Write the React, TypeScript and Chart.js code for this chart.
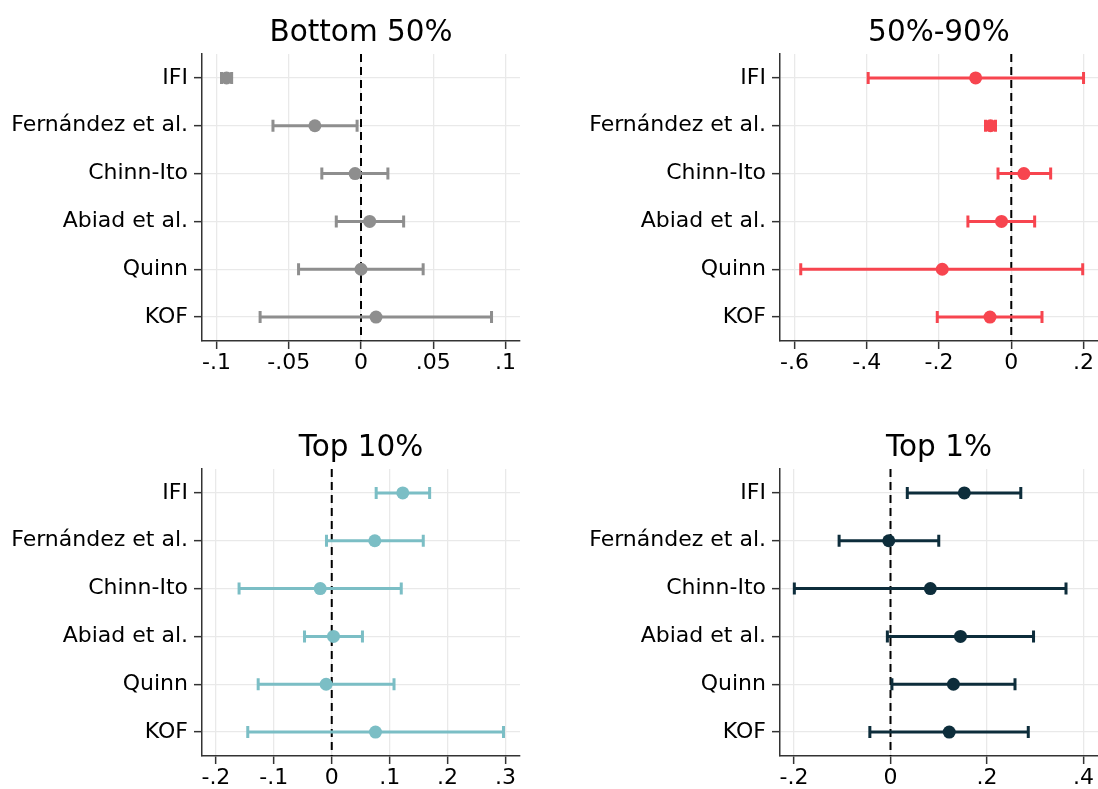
import React, { useEffect, useRef } from 'react';
import { Chart, registerables } from 'chart.js';

Chart.register(...registerables);

// ---------- data ----------
const CATEGORIES = ['IFI', 'Fernández et al.', 'Chinn-Ito', 'Abiad et al.', 'Quinn', 'KOF'];

const B50_EST = [-0.093, -0.0319, -0.0041, 0.006, 0.0, 0.0104];
const B50_LO = [-0.0965, -0.0609, -0.0271, -0.0171, -0.0432, -0.0698];
const B50_HI = [-0.0895, -0.0027, 0.0186, 0.0295, 0.043, 0.0903];

const M50_EST = [-0.0986, -0.0575, 0.0348, -0.027, -0.191, -0.0589];
const M50_LO = [-0.396, -0.0713, -0.0367, -0.12, -0.5826, -0.2048];
const M50_HI = [0.2, -0.0437, 0.109, 0.0647, 0.1977, 0.085];

const T10_EST = [0.1226, 0.0743, -0.0199, 0.003, -0.0097, 0.0755];
const T10_LO = [0.0767, -0.0091, -0.16, -0.047, -0.127, -0.145];
const T10_HI = [0.169, 0.158, 0.12, 0.053, 0.1075, 0.2965];

const T1_EST = [0.153, -0.0036, 0.0826, 0.145, 0.1304, 0.1217];
const T1_LO = [0.0348, -0.1065, -0.1993, -0.0065, 0.0029, -0.0428];
const T1_HI = [0.27, 0.1, 0.3637, 0.2964, 0.258, 0.2855];

const B50_TICKS = [-0.1, -0.05, 0, 0.05, 0.1];
const B50_TICK_LABELS = ['-.1', '-.05', '0', '.05', '.1'];
const M50_TICKS = [-0.6, -0.4, -0.2, 0, 0.2];
const M50_TICK_LABELS = ['-.6', '-.4', '-.2', '0', '.2'];
const T10_TICKS = [-0.2, -0.1, 0, 0.1, 0.2, 0.3];
const T10_TICK_LABELS = ['-.2', '-.1', '0', '.1', '.2', '.3'];
const T1_TICKS = [-0.2, 0, 0.2, 0.4];
const T1_TICK_LABELS = ['-.2', '0', '.2', '.4'];

// ---------- panel config ----------
const FONT = '"DejaVu Sans", sans-serif';

type PanelCfg = {
  title: string;
  est: number[];
  lo: number[];
  hi: number[];
  color: string;
  xMin: number;
  xMax: number;
  ticks: number[];
  tickLabels: string[];
  left: number;
  top: number;
  width: number;
  height: number;
  yAxisWidth: number;
  padTop: number;
  padRight: number;
  xAxisH: number;
};

const PANELS: PanelCfg[] = [
  {
    title: 'Bottom 50%', est: B50_EST, lo: B50_LO, hi: B50_HI, color: '#8e8e8e',
    xMin: -0.11, xMax: 0.11, ticks: B50_TICKS, tickLabels: B50_TICK_LABELS,
    left: 0, top: 0, width: 549, height: 400, yAxisWidth: 202, padTop: 54, padRight: 29, xAxisH: 59,
  },
  {
    title: '50%-90%', est: M50_EST, lo: M50_LO, hi: M50_HI, color: '#f7454f',
    xMin: -0.64, xMax: 0.24, ticks: M50_TICKS, tickLabels: M50_TICK_LABELS,
    left: 549, top: 0, width: 549, height: 400, yAxisWidth: 231, padTop: 54, padRight: 0, xAxisH: 59,
  },
  {
    title: 'Top 10%', est: T10_EST, lo: T10_LO, hi: T10_HI, color: '#7bbec5',
    xMin: -0.224, xMax: 0.325, ticks: T10_TICKS, tickLabels: T10_TICK_LABELS,
    left: 0, top: 400, width: 549, height: 389, yAxisWidth: 202, padTop: 69, padRight: 29, xAxisH: 33,
  },
  {
    title: 'Top 1%', est: T1_EST, lo: T1_LO, hi: T1_HI, color: '#0d2d3b',
    xMin: -0.229, xMax: 0.43, ticks: T1_TICKS, tickLabels: T1_TICK_LABELS,
    left: 549, top: 400, width: 549, height: 389, yAxisWidth: 231, padTop: 69, padRight: 0, xAxisH: 33,
  },
];

const coefPlugin = {
  id: 'coefPlot',
  beforeDatasetsDraw(chart: any, _args: any, opts: any) {
    const { ctx, chartArea } = chart;
    const x = chart.scales.x;
    const y = chart.scales.y;
    ctx.save();
    // zero reference line
    const x0 = x.getPixelForValue(0);
    ctx.beginPath();
    ctx.setLineDash([8, 5]);
    ctx.lineWidth = 2;
    ctx.strokeStyle = '#000';
    ctx.moveTo(x0, chartArea.top);
    ctx.lineTo(x0, chartArea.bottom);
    ctx.stroke();
    ctx.setLineDash([]);
    // confidence intervals
    const lo: number[] = opts.lo;
    const hi: number[] = opts.hi;
    ctx.strokeStyle = opts.color;
    ctx.lineWidth = 3;
    ctx.lineCap = 'butt';
    for (let i = 0; i < lo.length; i++) {
      const py = y.getPixelForValue(i);
      const xl = x.getPixelForValue(lo[i]);
      const xh = x.getPixelForValue(hi[i]);
      ctx.beginPath();
      ctx.moveTo(xl, py);
      ctx.lineTo(xh, py);
      ctx.stroke();
      ctx.beginPath();
      ctx.moveTo(xl, py - 6);
      ctx.lineTo(xl, py + 6);
      ctx.moveTo(xh, py - 6);
      ctx.lineTo(xh, py + 6);
      ctx.stroke();
    }
    ctx.restore();
  },
  afterDraw(chart: any, _args: any, opts: any) {
    const { ctx, chartArea } = chart;
    ctx.save();
    ctx.font = `29.5px ${FONT}`;
    ctx.fillStyle = '#000';
    ctx.textAlign = 'center';
    ctx.textBaseline = 'alphabetic';
    ctx.fillText(opts.title, (chartArea.left + chartArea.right) / 2, chartArea.top - 13.5);
    ctx.restore();
  },
};

function Panel({ cfg }: { cfg: PanelCfg }) {
  const ref = useRef<HTMLCanvasElement | null>(null);
  useEffect(() => {
    if (!ref.current) return;
    const chart = new Chart(ref.current, {
      type: 'scatter',
      data: {
        labels: CATEGORIES,
        datasets: [
          {
            data: cfg.est.map((v, i) => ({ x: v, y: CATEGORIES[i] })) as any,
            backgroundColor: cfg.color,
            borderColor: cfg.color,
            borderWidth: 0,
            pointRadius: 6.5,
            pointHoverRadius: 6.5,
            showLine: false,
            clip: false,
          },
        ],
      },
      options: {
        responsive: false,
        animation: false,
        events: [],
        layout: { autoPadding: false, padding: { left: 0, top: cfg.padTop, right: cfg.padRight, bottom: 0 } },
        plugins: {
          legend: { display: false },
          tooltip: { enabled: false },
          title: { display: false },
          coefPlot: { lo: cfg.lo, hi: cfg.hi, color: cfg.color, title: cfg.title },
        } as any,
        scales: {
          x: {
            type: 'linear',
            min: cfg.xMin,
            max: cfg.xMax,
            afterBuildTicks: (s: any) => {
              s.ticks = cfg.ticks.map((v) => ({ value: v }));
            },
            afterFit: (s: any) => {
              s.height = cfg.xAxisH;
              s.paddingLeft = 0;
              s.paddingRight = 0;
            },
            ticks: {
              callback: (_v: any, i: number) => cfg.tickLabels[i],
              padding: 1,
              maxRotation: 0,
              autoSkip: false,
              color: '#000',
              font: { size: 22, family: FONT },
            },
            grid: {
              color: '#e9e9e9',
              lineWidth: 1.3,
              tickColor: '#333',
              tickLength: 8,
              tickWidth: 1.5,
            },
            border: { display: true, color: '#333', width: 1.5 },
          },
          y: {
            type: 'category',
            labels: CATEGORIES,
            offset: true,
            afterFit: (s: any) => {
              s.width = cfg.yAxisWidth;
              s.paddingTop = 0;
              s.paddingBottom = 0;
            },
            ticks: {
              padding: 6,
              autoSkip: false,
              color: '#000',
              font: { size: 22, family: FONT },
            },
            grid: {
              offset: false,
              color: '#e9e9e9',
              lineWidth: 1.3,
              tickColor: '#333',
              tickLength: 8,
              tickWidth: 1.5,
            },
            border: { display: true, color: '#333', width: 1.5 },
          },
        } as any,
      },
      plugins: [coefPlugin],
    });
    return () => chart.destroy();
  }, [cfg]);
  return (
    <canvas
      ref={ref}
      width={cfg.width}
      height={cfg.height}
      style={{ position: 'absolute', left: cfg.left, top: cfg.top, width: cfg.width, height: cfg.height }}
    />
  );
}

export default function App() {
  return (
    <div style={{ position: 'absolute', left: 0, top: 0, width: 1098, height: 789, background: '#fff', overflow: 'hidden' }}>
      {PANELS.map((p) => (
        <Panel key={p.title} cfg={p} />
      ))}
    </div>
  );
}
